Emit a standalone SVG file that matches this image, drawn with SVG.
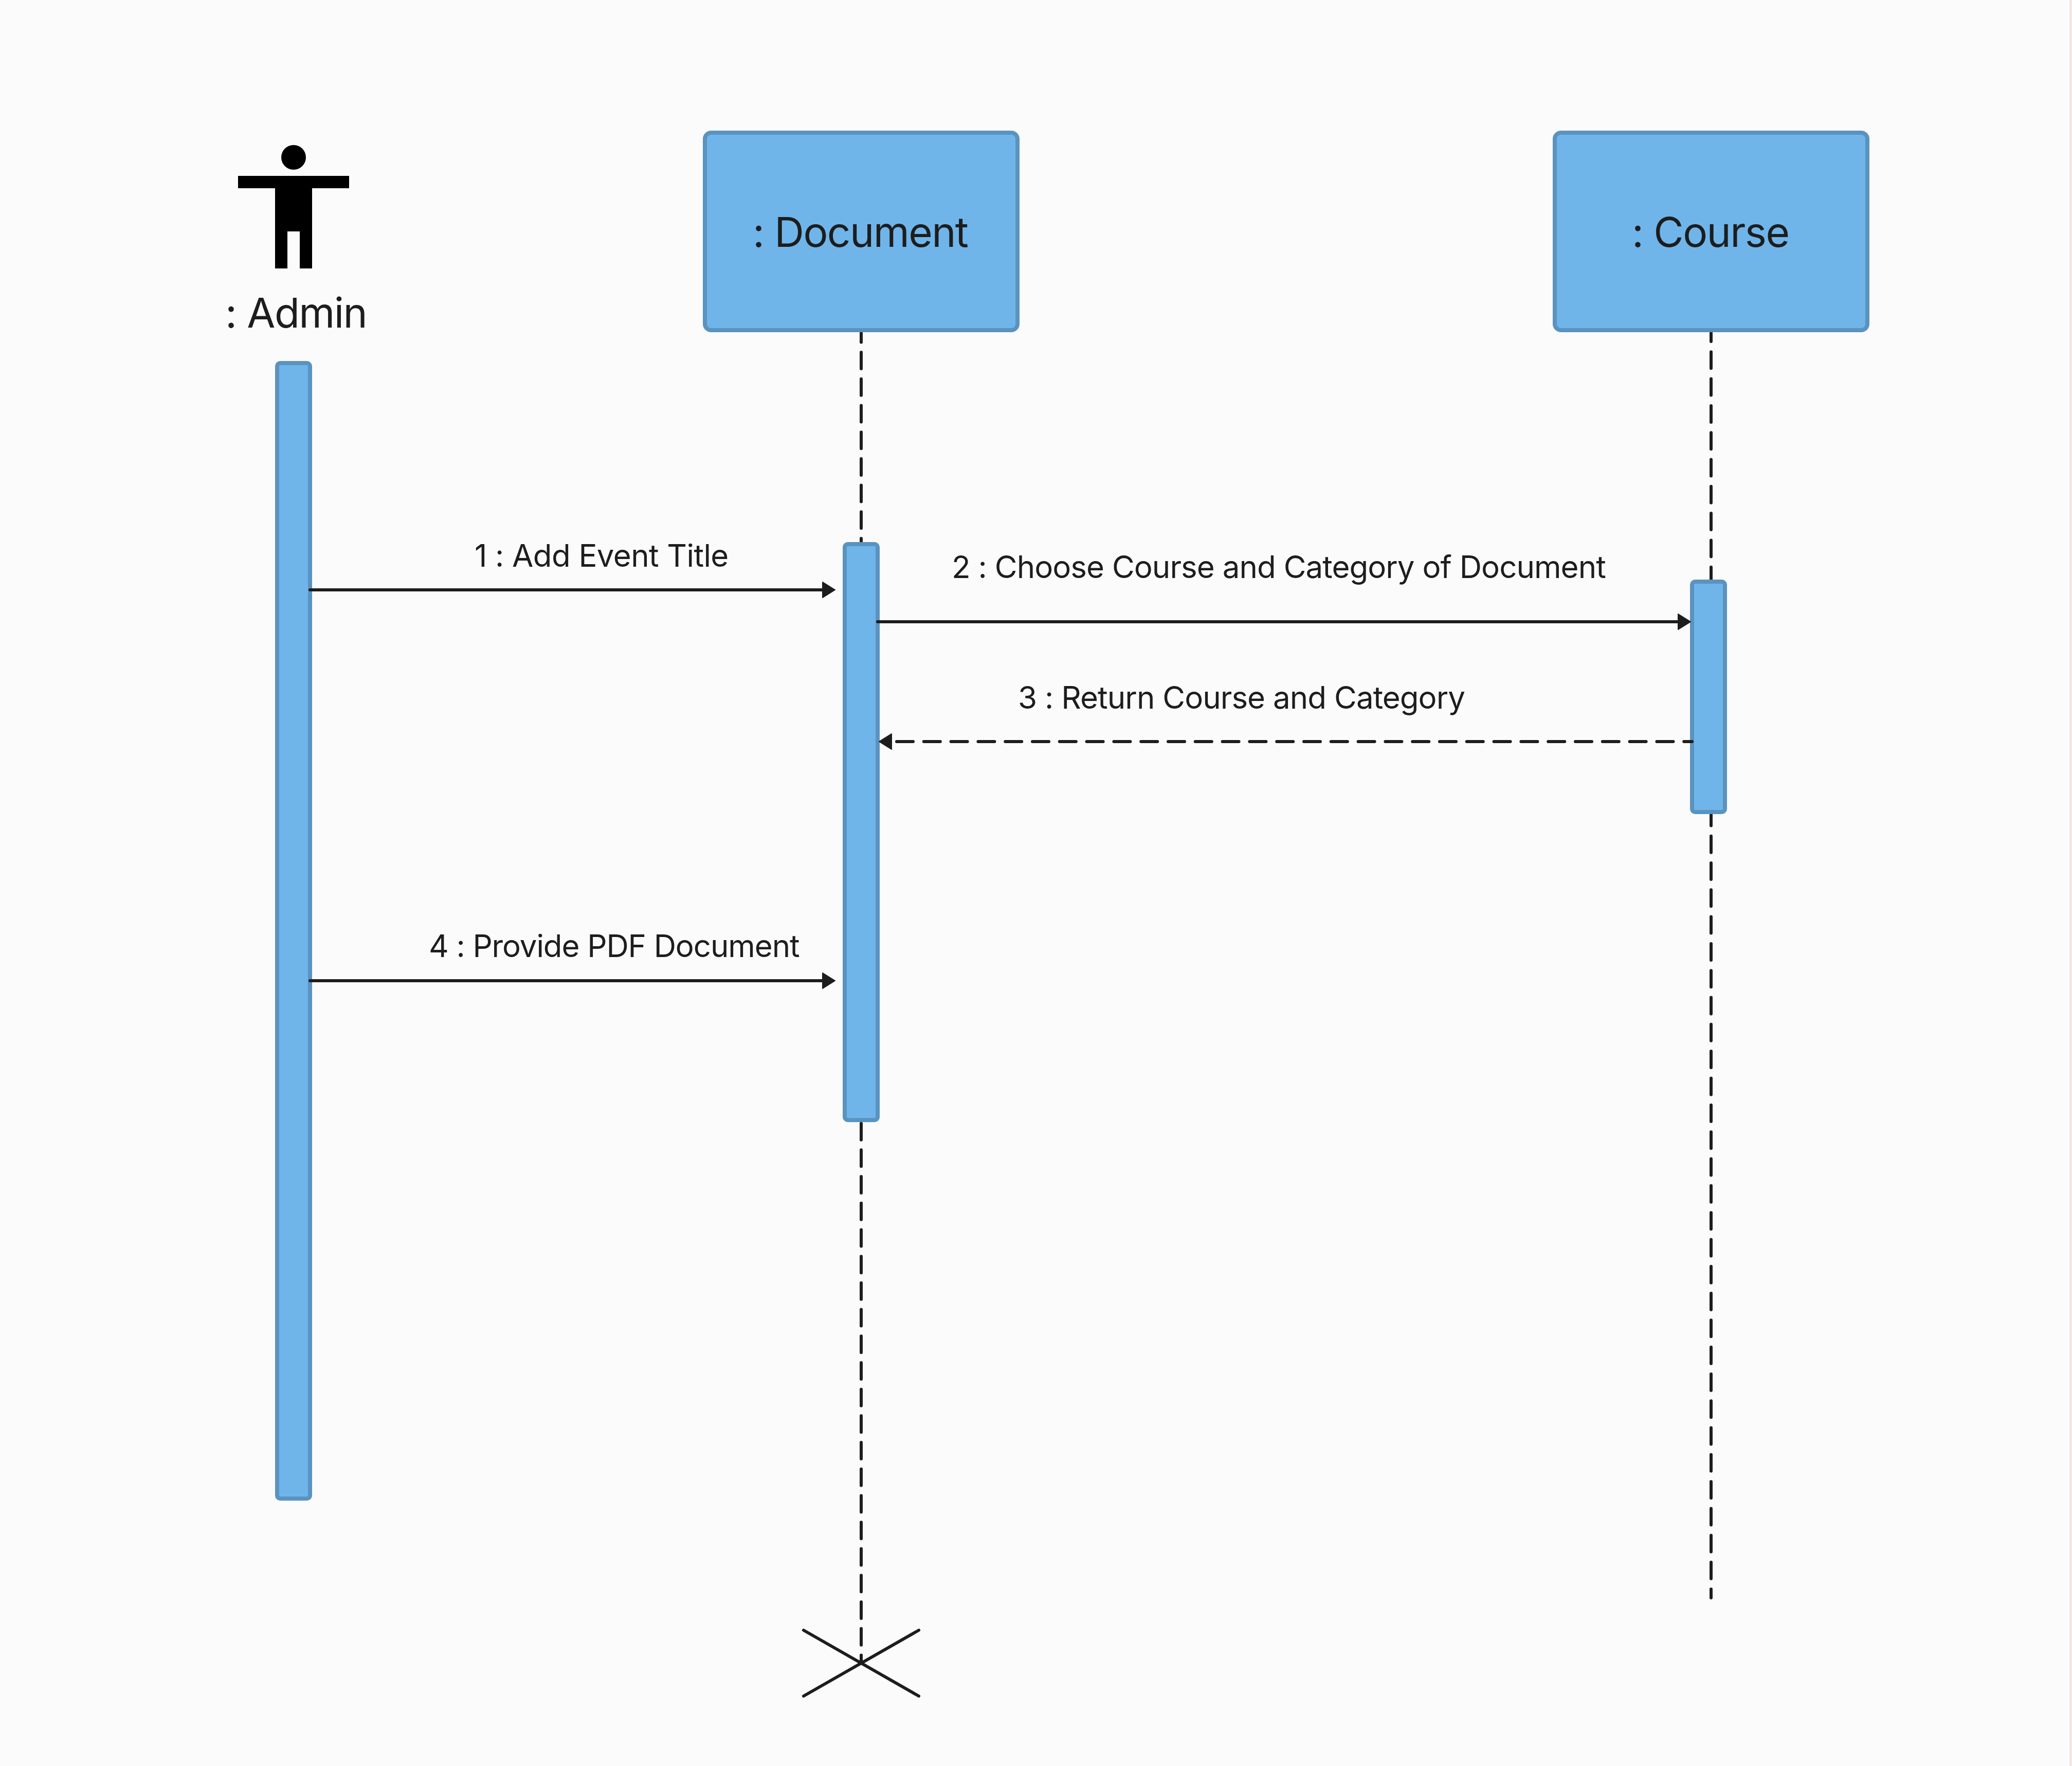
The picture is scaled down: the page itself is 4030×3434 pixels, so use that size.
<svg xmlns="http://www.w3.org/2000/svg" width="4030" height="3434" viewBox="0 0 4030 3434">
<style>
.box{fill:#6fb5ea;stroke:#5b93bf;stroke-width:8}
text{font-family:Inter,"Liberation Sans",sans-serif;fill:#1d1d1d}
.t80{font-size:80px;letter-spacing:-1.6px}
.t60{font-size:60px;letter-spacing:-0.95px}
.line{stroke:#1d1d1d;stroke-width:6;stroke-linecap:round;fill:none}
.msgd{stroke-dasharray:32 20.8}
</style>
<defs>
<marker id="arrow" markerUnits="userSpaceOnUse" markerWidth="30" markerHeight="36" refX="14" refY="17" orient="auto" overflow="visible">
<path d="M2 2 L26 17 L2 32 Z" fill="#1d1d1d" stroke="#1d1d1d" stroke-width="2" stroke-linejoin="round"/>
</marker>
<marker id="arrowBack" markerUnits="userSpaceOnUse" markerWidth="30" markerHeight="36" refX="-8" refY="17" orient="auto-start-reverse" overflow="visible">
<path d="M2 2 L26 17 L2 32 Z" fill="#1d1d1d" stroke="#1d1d1d" stroke-width="2" stroke-linejoin="round"/>
</marker>
</defs>
<rect width="4030" height="3434" fill="#fbfbfb"/>
<rect x="4025" y="0" width="2" height="3434" fill="#e8e8e8"/>
<rect x="4027" y="0" width="3" height="3434" fill="#fbe4e0"/>
<g id="lifelines">
<line class="line" stroke-dasharray="32 19.7" x1="1675" y1="633.4" x2="1675" y2="3233"/>
<line class="line" stroke-dasharray="32 20.3" x1="3328" y1="632" x2="3328" y2="3107"/>
</g>
<g id="admin">
<circle cx="571" cy="306" r="24" fill="#000"/>
<path d="M463 342H679V366H607V522H583V450H559V522H535V366H463Z" fill="#000"/>
<text class="t80" x="438" y="637">: Admin</text>
<rect class="box" x="539" y="706" width="64" height="2208" rx="6"/>
</g>
<g id="document">
<rect class="box" x="1371" y="258" width="608" height="384" rx="12"/>
<text class="t80" x="1464" y="480">: Document</text>
<rect class="box" x="1643" y="1058" width="64" height="1120" rx="6"/>
</g>
<g id="course">
<rect class="box" x="3024" y="258" width="608" height="384" rx="12"/>
<text class="t80" x="3174" y="480">: Course</text>
<rect class="box" x="3291" y="1131" width="64" height="448" rx="6"/>
</g>
<g id="destroy">
<line class="line" x1="1563" y1="3170" x2="1787" y2="3298"/>
<line class="line" x1="1787" y1="3170" x2="1563" y2="3298"/>
</g>
<g id="connectors">
<line class="line" x1="603" y1="1147" x2="1612" y2="1147" marker-end="url(#arrow)"/>
<line class="line" x1="1707" y1="1209" x2="3276" y2="1209" marker-end="url(#arrow)"/>
<line class="line msgd" x1="1744" y1="1442" x2="3291" y2="1442" marker-start="url(#arrowBack)"/>
<line class="line" x1="603" y1="1907" x2="1612" y2="1907" marker-end="url(#arrow)"/>
</g>
<g id="labels">
<text class="t60" x="923" y="1102" style="letter-spacing:-0.6px">1 : Add Event Title</text>
<text class="t60" x="1851" y="1124">2 : Choose Course and Category of Document</text>
<text class="t60" x="1980" y="1378">3 : Return Course and Category</text>
<text class="t60" x="834" y="1861" style="letter-spacing:-1.1px">4 : Provide PDF Document</text>
</g>
</svg>
